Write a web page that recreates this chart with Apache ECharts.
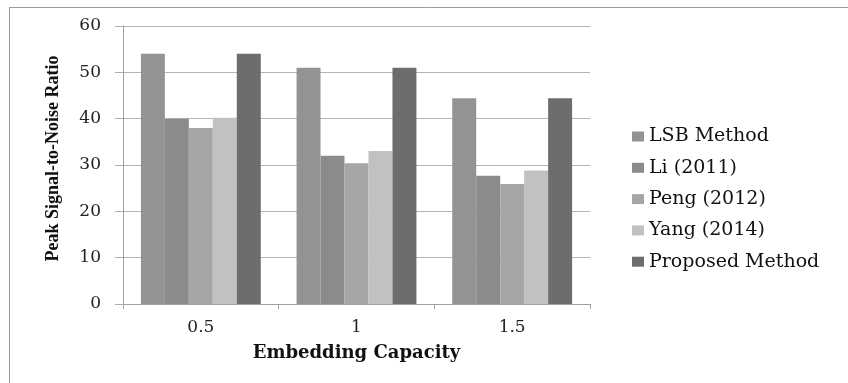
<!DOCTYPE html>
<html>
<head>
<meta charset="utf-8">
<script src="https://cdn.jsdelivr.net/npm/echarts@6/dist/echarts.min.js"></script>
<style>html,body{margin:0;padding:0;background:#fff}#c{width:848px;height:383px}</style>
</head>
<body>
<div id="c"></div>
<script>
var categories = ['0.5', '1', '1.5'];
var seriesNames = ['LSB Method', 'Li (2011)', 'Peng (2012)', 'Yang (2014)', 'Proposed Method'];
var lsbMethod = [54, 51, 44.4];
var li2011 = [40, 32, 27.7];
var peng2012 = [38, 30.4, 25.9];
var yang2014 = [40.2, 33, 28.8];
var proposedMethod = [54, 51, 44.4];
var yTicks = [0, 10, 20, 30, 40, 50, 60];

var colors = ['#939393', '#8b8b8b', '#a6a6a6', '#c1c1c1', '#6d6d6d'];
var values = [lsbMethod, li2011, peng2012, yang2014, proposedMethod];
var serif = 'DejaVu Serif';

var chart = echarts.init(document.getElementById('c'), null, {renderer: 'canvas'});
chart.setOption({
  animation: false,
  backgroundColor: '#fff',
  graphic: [
    {type: 'line', shape: {x1: 9, y1: 7.5, x2: 848, y2: 7.5}, style: {stroke: '#9a9a9a', lineWidth: 1}, silent: true},
    {type: 'line', shape: {x1: 9.5, y1: 7, x2: 9.5, y2: 383}, style: {stroke: '#9a9a9a', lineWidth: 1}, silent: true}
  ],
  grid: {left: 123, right: 258, top: 26, bottom: 79},
  legend: {
    orient: 'vertical',
    left: 627,
    top: 122,
    itemWidth: 12,
    itemHeight: 10,
    itemGap: 12.3,
    icon: 'rect',
    textStyle: {fontFamily: serif, fontSize: 19, color: '#111', lineHeight: 18},
    data: seriesNames
  },
  xAxis: {
    type: 'category',
    data: categories,
    name: 'Embedding Capacity',
    nameLocation: 'middle',
    nameGap: 40,
    nameTextStyle: {fontFamily: serif, fontWeight: 'bold', fontSize: 18, color: '#111'},
    axisLine: {lineStyle: {color: '#a0a0a0'}},
    axisTick: {show: true, length: 5, lineStyle: {color: '#a0a0a0'}},
    axisLabel: {fontFamily: serif, fontSize: 17, color: '#222', margin: 15}
  },
  yAxis: {
    type: 'value',
    min: 0,
    max: 60,
    interval: 10,
    name: 'Peak Signal-to-Noise Ratio',
    nameLocation: 'middle',
    nameGap: 61,
    nameTextStyle: {fontFamily: 'Liberation Serif', fontWeight: 'bold', fontSize: 18, color: '#111', padding: [0, 0, 0, 13]},
    axisLine: {show: true, lineStyle: {color: '#a0a0a0'}},
    axisTick: {show: true, inside: false, length: 8, lineStyle: {color: '#b0b0b0'}},
    axisLabel: {fontFamily: serif, fontSize: 17, color: '#222', margin: 22,
      formatter: function (v) { return yTicks.indexOf(v) >= 0 ? String(v) : ''; }},
    splitLine: {lineStyle: {color: '#b4b4b4'}}
  },
  series: seriesNames.map(function (n, i) {
    return {
      name: n,
      type: 'bar',
      data: values[i],
      barGap: '0%',
      barCategoryGap: '23%',
      itemStyle: {color: colors[i]}
    };
  })
});
</script>
</body>
</html>
